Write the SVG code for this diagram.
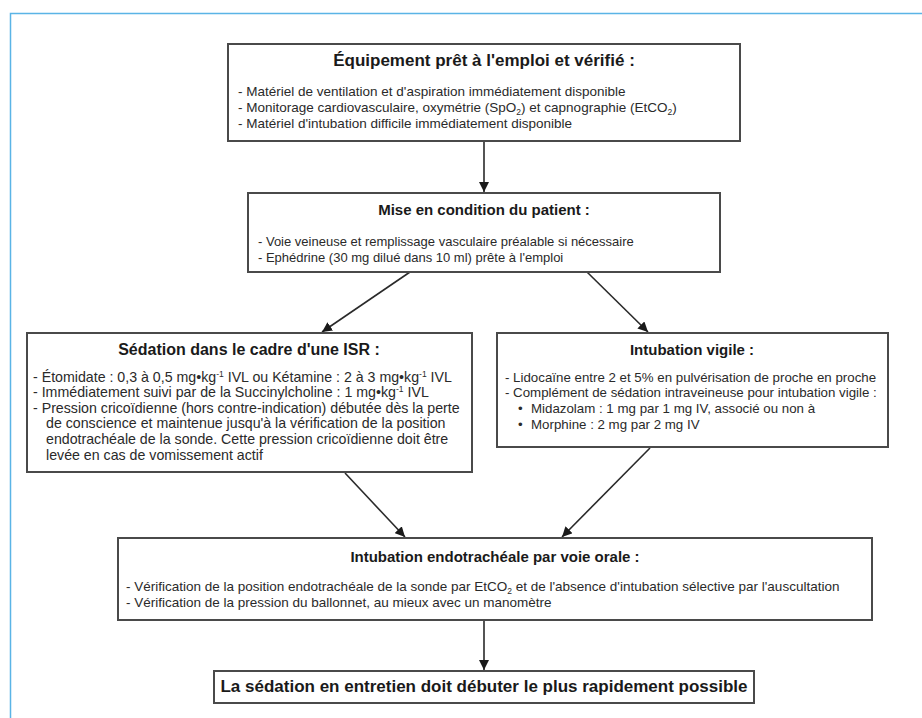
<svg xmlns="http://www.w3.org/2000/svg" width="922" height="718" viewBox="0 0 922 718">
<style>
.box{fill:#fff;stroke:#4a4a4a;stroke-width:2}
.t{font-family:"Liberation Sans",Arial,sans-serif;font-weight:bold;font-size:15px;fill:#1a1a1a;text-anchor:middle}
.b{font-family:"Liberation Sans",Arial,sans-serif;font-size:13px;fill:#2a2a2a}
.sub{font-size:8.5px}
.con{stroke:#2a2a2a;stroke-width:1.6;fill:none;marker-end:url(#ah)}
</style>
<defs>
<marker id="ah" viewBox="0 0 10 10" refX="10" refY="5" markerWidth="10" markerHeight="10" markerUnits="userSpaceOnUse" orient="auto">
<path d="M0,0 L10,5 L0,10 Z" fill="#1a1a1a"/>
</marker>
</defs>
<rect width="922" height="718" fill="#fff"/>
<path d="M10.5,718 V13.5 H922" fill="none" stroke="#5ab4e6" stroke-width="1.5"/>

<g id="connectors">
<line class="con" x1="484" y1="141" x2="484" y2="192"/>
<line class="con" x1="410" y1="272" x2="322" y2="332"/>
<line class="con" x1="587" y1="272" x2="648" y2="332"/>
<line class="con" x1="345" y1="473" x2="405" y2="537"/>
<line class="con" x1="650" y1="448" x2="562" y2="537"/>
<line class="con" x1="484" y1="620" x2="484" y2="670"/>
</g>

<g id="n1">
<rect class="box" x="228" y="44" width="512" height="97"/>
<text class="t" x="484" y="66" style="font-size:17px">Équipement prêt à l'emploi et vérifié :</text>
<g style="font-size:13.5px">
<text class="b" x="238" y="96" style="font-size:13.5px">- Matériel de ventilation et d'aspiration immédiatement disponible</text>
<text class="b" x="238" y="112" style="font-size:13.5px">- Monitorage cardiovasculaire, oxymétrie (SpO<tspan class="sub" dy="3">2</tspan><tspan dy="-3">) et capnographie (EtCO</tspan><tspan class="sub" dy="3">2</tspan><tspan dy="-3">)</tspan></text>
<text class="b" x="238" y="128" style="font-size:13.5px">- Matériel d'intubation difficile immédiatement disponible</text>
</g>
</g>

<g id="n2">
<rect class="box" x="248" y="193" width="472" height="79"/>
<text class="t" x="484" y="215">Mise en condition du patient :</text>
<text class="b" x="258" y="246">- Voie veineuse et remplissage vasculaire préalable si nécessaire</text>
<text class="b" x="258" y="262">- Ephédrine (30 mg dilué dans 10 ml) prête à l'emploi</text>
</g>

<g id="n3">
<rect class="box" x="27" y="333" width="445" height="139"/>
<text class="t" x="249" y="355" style="font-size:16px">Sédation dans le cadre d'une ISR :</text>
<text class="b" x="33" y="382" style="font-size:14.2px">- Étomidate : 0,3 à 0,5 mg•kg<tspan class="sub" dy="-5">-1</tspan><tspan dy="5"> IVL ou Kétamine : 2 à 3 mg•kg</tspan><tspan class="sub" dy="-5">-1</tspan><tspan dy="5"> IVL</tspan></text>
<text class="b" x="33" y="397" style="font-size:14.2px">- Immédiatement suivi par de la Succinylcholine : 1 mg•kg<tspan class="sub" dy="-5">-1</tspan><tspan dy="5"> IVL</tspan></text>
<text class="b" x="33" y="413" style="font-size:14.2px">- Pression cricoïdienne (hors contre-indication) débutée dès la perte</text>
<text class="b" x="46" y="428" style="font-size:14.2px">de conscience et maintenue jusqu'à la vérification de la position</text>
<text class="b" x="46" y="444" style="font-size:14.2px">endotrachéale de la sonde. Cette pression cricoïdienne doit être</text>
<text class="b" x="46" y="460" style="font-size:14.2px">levée en cas de vomissement actif</text>
</g>

<g id="n4">
<rect class="box" x="497" y="333" width="391" height="114"/>
<text class="t" x="692" y="355">Intubation vigile :</text>
<text class="b" x="505" y="382" style="font-size:13.3px">- Lidocaïne entre 2 et 5% en pulvérisation de proche en proche</text>
<text class="b" x="505" y="397" style="font-size:13.3px">- Complément de sédation intraveineuse pour intubation vigile :</text>
<text class="b" x="518" y="413" style="font-size:13.3px">•</text>
<text class="b" x="531" y="413" style="font-size:13.3px">Midazolam : 1 mg par 1 mg IV, associé ou non à</text>
<text class="b" x="518" y="429" style="font-size:13.3px">•</text>
<text class="b" x="531" y="429" style="font-size:13.3px">Morphine : 2 mg par 2 mg IV</text>
</g>

<g id="n5">
<rect class="box" x="118" y="538" width="754" height="82"/>
<text class="t" x="495" y="562">Intubation endotrachéale par voie orale :</text>
<text class="b" x="126" y="591" style="font-size:13.5px">- Vérification de la position endotrachéale de la sonde par EtCO<tspan class="sub" dy="3">2</tspan><tspan dy="-3"> et de l'absence d'intubation sélective par l'auscultation</tspan></text>
<text class="b" x="126" y="607" style="font-size:13.5px">- Vérification de la pression du ballonnet, au mieux avec un manomètre</text>
</g>

<g id="n6">
<rect class="box" x="214" y="671" width="540" height="32"/>
<text class="t" x="484" y="692" style="font-size:17px">La sédation en entretien doit débuter le plus rapidement possible</text>
</g>
</svg>
